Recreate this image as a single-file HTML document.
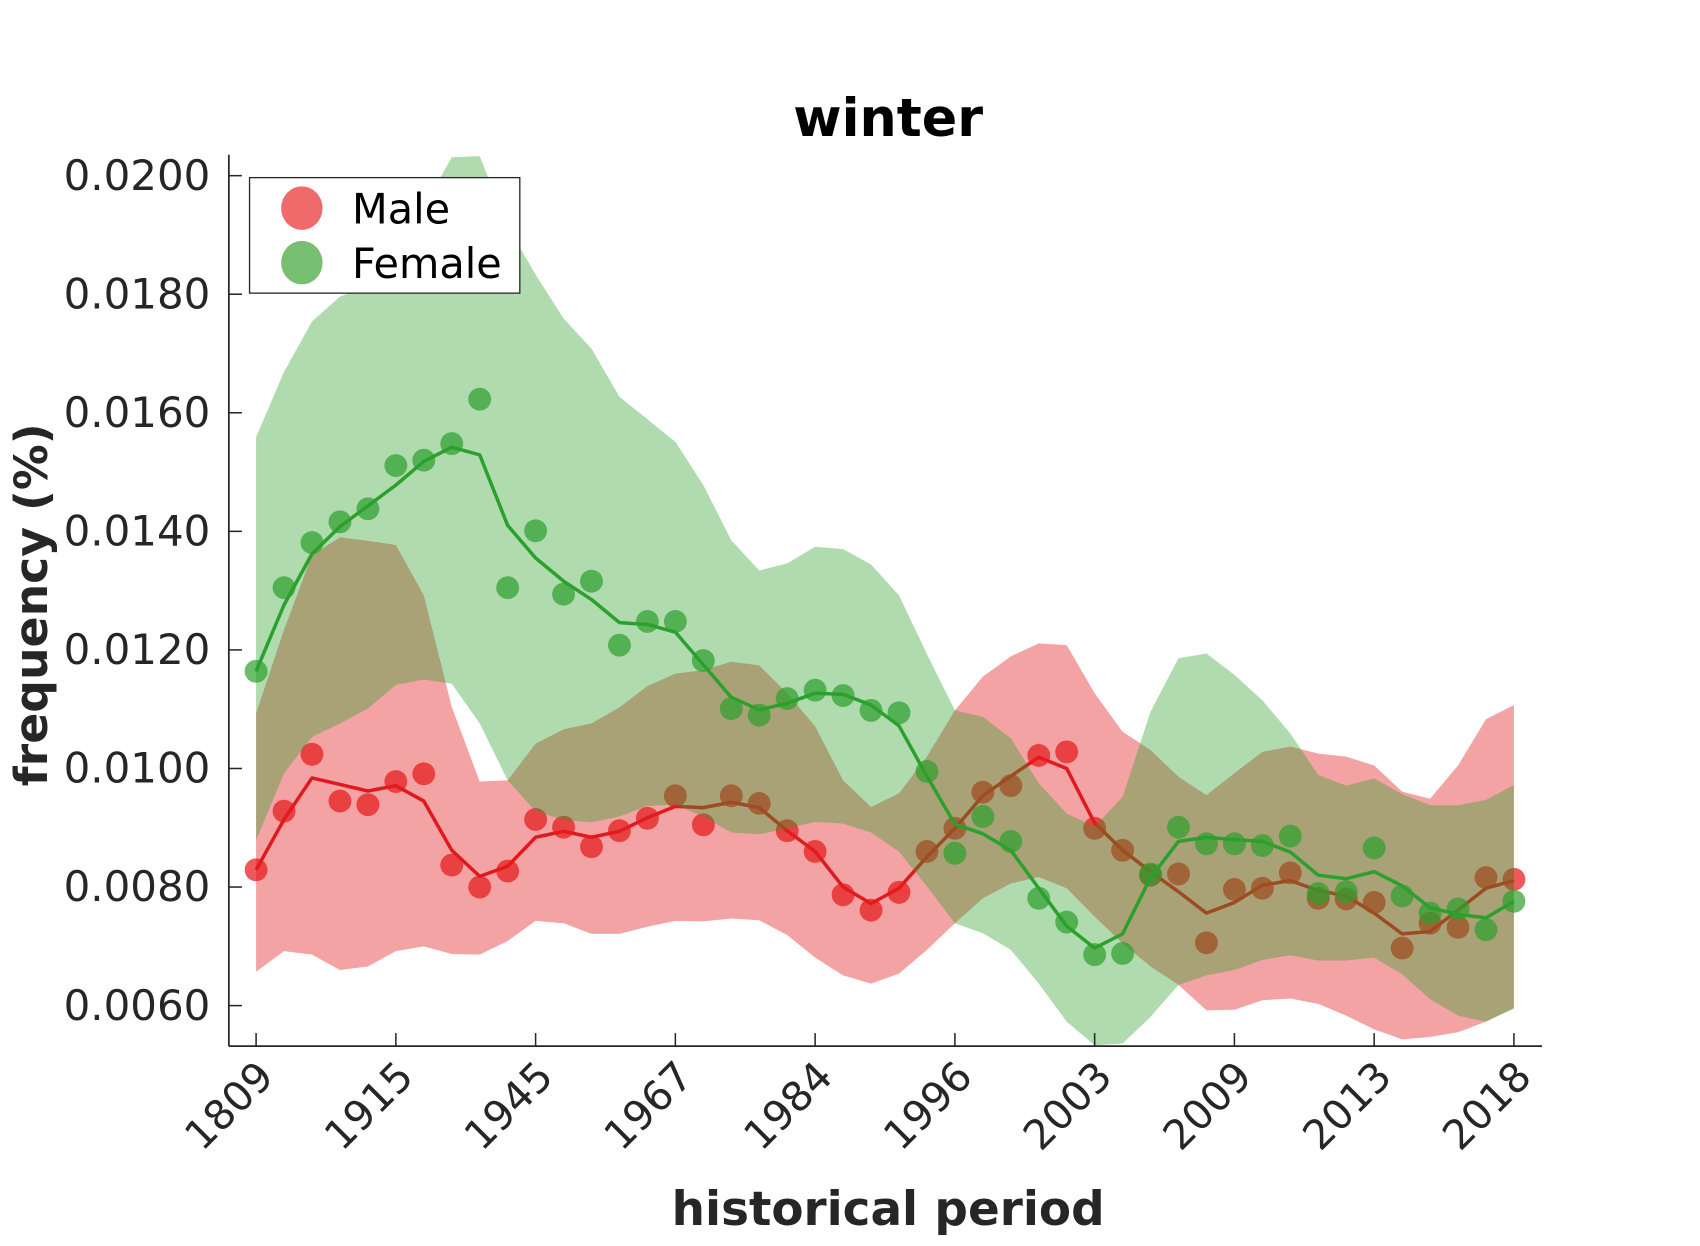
<!DOCTYPE html>
<html><head><meta charset="utf-8"><style>
html,body{margin:0;padding:0;background:#fff;}
svg{display:block;font-family:"DejaVu Sans","Liberation Sans",sans-serif;}
</style></head><body>
<svg id="chart" width="1700" height="1246" viewBox="0 0 1560 1143.4" preserveAspectRatio="none" xmlns="http://www.w3.org/2000/svg">
<defs><clipPath id="plotclip"><rect x="210" y="142" width="1205" height="818"/></clipPath></defs>
<rect width="1560" height="1143.4" fill="#fff"/>
<g id="bands" clip-path="url(#plotclip)"></g>
<text x="815" y="125" text-anchor="middle" font-size="48" font-weight="bold" fill="#000">winter</text>
<text x="815" y="1124" text-anchor="middle" font-size="43" font-weight="bold" fill="#262626">historical period</text>
<text transform="translate(43,555) rotate(-90)" text-anchor="middle" font-size="42" font-weight="bold" fill="#262626">frequency (%)</text>
<g id="axes"></g>
<g>
<rect x="229" y="163" width="248" height="106" fill="#fff" stroke="#262626" stroke-width="1.2"/>
<g>
<ellipse cx="277" cy="191" rx="19" ry="20" fill="#ee6a6b"/>
<text x="323" y="205" font-size="38" fill="#000">Male</text>
</g>
<g>
<ellipse cx="277" cy="241" rx="19" ry="20" fill="#78bf71"/>
<text x="323" y="255" font-size="38" fill="#000">Female</text>
</g>
</g>
</svg>
<script>
const periods = ["1809","1915","1945","1967","1984","1996","2003","2009","2013","2018"];
const yTicks = [0.0060,0.0080,0.0100,0.0120,0.0140,0.0160,0.0180,0.0200];
const yTickLabels = ["0.0060","0.0080","0.0100","0.0120","0.0140","0.0160","0.0180","0.0200"];
const maleDots = [0.00829,0.00928,0.01024,0.00945,0.00939,0.00978,0.00991,0.00837,0.00800,0.00827,0.00914,0.00901,0.00868,0.00895,0.00916,0.00954,0.00905,0.00954,0.00941,0.00895,0.00860,0.00787,0.00761,0.00791,0.00860,0.00899,0.00960,0.00971,0.01022,0.01028,0.00899,0.00862,0.00820,0.00822,0.00706,0.00796,0.00798,0.00824,0.00781,0.00780,0.00774,0.00697,0.00739,0.00732,0.00816,0.00813];
const femaleDots = [0.01164,0.01305,0.01381,0.01416,0.01438,0.01511,0.01520,0.01548,0.01623,0.01305,0.01401,0.01294,0.01316,0.01208,0.01248,0.01248,0.01182,0.01101,0.01090,0.01118,0.01132,0.01123,0.01098,0.01094,0.00995,0.00857,0.00919,0.00877,0.00781,0.00741,0.00686,0.00688,0.00822,0.00901,0.00873,0.00873,0.00870,0.00886,0.00789,0.00792,0.00866,0.00785,0.00756,0.00763,0.00728,0.00776];
const maleLine = [0.00829,0.00914,0.00984,0.00973,0.00962,0.00971,0.00945,0.00862,0.00818,0.00835,0.00884,0.00894,0.00884,0.00894,0.00917,0.00936,0.00934,0.00943,0.00934,0.00895,0.00860,0.00800,0.00772,0.00798,0.00851,0.00899,0.00954,0.00987,0.01019,0.01000,0.00908,0.00862,0.00826,0.00792,0.00756,0.00774,0.00803,0.00811,0.00794,0.00785,0.00756,0.00721,0.00725,0.00761,0.00798,0.00811];
const femaleLine = [0.01164,0.01276,0.01362,0.01408,0.01443,0.01478,0.01518,0.01542,0.01529,0.01410,0.01355,0.01316,0.01285,0.01246,0.01243,0.01230,0.01175,0.01120,0.01099,0.01110,0.01127,0.01125,0.01107,0.01072,0.00987,0.00906,0.00890,0.00862,0.00798,0.00734,0.00697,0.00721,0.00816,0.00877,0.00884,0.00880,0.00877,0.00859,0.00820,0.00814,0.00826,0.00802,0.00765,0.00754,0.00748,0.00776];
const maleUpper = [0.01093,0.01234,0.01360,0.01390,0.01384,0.01377,0.01292,0.01104,0.00978,0.00980,0.01042,0.01066,0.01076,0.01103,0.01139,0.01160,0.01166,0.01180,0.01174,0.01127,0.01071,0.00980,0.00935,0.00958,0.01020,0.01098,0.01155,0.01189,0.01211,0.01208,0.01127,0.01062,0.01031,0.00986,0.00955,0.00992,0.01028,0.01037,0.01025,0.01020,0.01005,0.00961,0.00949,0.01005,0.01083,0.01107];
const maleLower = [0.00657,0.00692,0.00686,0.00660,0.00666,0.00692,0.00700,0.00687,0.00686,0.00709,0.00743,0.00739,0.00721,0.00721,0.00733,0.00743,0.00742,0.00747,0.00744,0.00719,0.00681,0.00651,0.00637,0.00654,0.00694,0.00739,0.00781,0.00806,0.00817,0.00798,0.00750,0.00705,0.00666,0.00635,0.00592,0.00593,0.00609,0.00612,0.00603,0.00583,0.00560,0.00543,0.00547,0.00555,0.00573,0.00596];
const femaleUpper = [0.01559,0.01669,0.01754,0.01796,0.01814,0.01864,0.01947,0.02031,0.02033,0.01914,0.01833,0.01759,0.01708,0.01627,0.01589,0.01551,0.01478,0.01385,0.01334,0.01346,0.01374,0.01370,0.01344,0.01292,0.01193,0.01098,0.01087,0.01051,0.00975,0.00924,0.00902,0.00952,0.01096,0.01186,0.01194,0.01158,0.01115,0.01059,0.00989,0.00971,0.00983,0.00957,0.00938,0.00938,0.00947,0.00972];
const femaleLower = [0.00879,0.00992,0.01053,0.01076,0.01101,0.01141,0.01150,0.01143,0.01076,0.00980,0.00928,0.00913,0.00909,0.00919,0.00937,0.00939,0.00919,0.00892,0.00889,0.00899,0.00910,0.00907,0.00892,0.00860,0.00801,0.00739,0.00722,0.00694,0.00637,0.00573,0.00533,0.00536,0.00581,0.00635,0.00651,0.00660,0.00677,0.00685,0.00676,0.00676,0.00681,0.00653,0.00611,0.00583,0.00573,0.00595];

const NS = "http://www.w3.org/2000/svg";
const X0 = 235, DX = 25.65, Y0 = 161.2, PXPER = 108.8;
function xPos(i){ return X0 + i*DX; }
function yPos(v){ return Y0 + (0.0200 - v)/0.002*PXPER; }
function mk(tag, attrs, parent){ const e = document.createElementNS(NS, tag); for (const k in attrs) e.setAttribute(k, attrs[k]); parent.appendChild(e); return e; }
function linePts(arr){ return arr.map((v,i)=>xPos(i).toFixed(2)+","+yPos(v).toFixed(2)).join(" "); }
function bandPts(up, lo){ const a = up.map((v,i)=>xPos(i).toFixed(2)+","+yPos(v).toFixed(2)); const b = lo.map((v,i)=>xPos(i).toFixed(2)+","+yPos(v).toFixed(2)).reverse(); return a.concat(b).join(" "); }

const bands = document.getElementById("bands");
const mb = mk("polygon", {points: bandPts(maleUpper, maleLower), fill: "rgb(228,26,28)", "fill-opacity": "0.4"}, bands);


const ml = mk("polyline", {points: linePts(maleLine), fill: "none", stroke: "#e0191e", "stroke-width": "3.2", "stroke-linejoin": "round"}, bands);


maleDots.forEach((v,i)=>{
  const c = mk("circle", {cx: xPos(i), cy: yPos(v), r: 10.5, fill: "rgb(228,26,28)", "fill-opacity": "0.72"}, bands);
  
  
});
const fb = mk("polygon", {points: bandPts(femaleUpper, femaleLower), fill: "rgb(44,160,44)", "fill-opacity": "0.38"}, bands);


const fl = mk("polyline", {points: linePts(femaleLine), fill: "none", stroke: "#2ca02c", "stroke-width": "3.2", "stroke-linejoin": "round"}, bands);


femaleDots.forEach((v,i)=>{
  const c = mk("circle", {cx: xPos(i), cy: yPos(v), r: 10.5, fill: "rgb(44,160,44)", "fill-opacity": "0.7"}, bands);
  
  
});

const axes = document.getElementById("axes");
const yAx = mk("line", {x1: 210, y1: 142, x2: 210, y2: 960, stroke: "#262626", "stroke-width": "1.6"}, axes);


const xAx = mk("line", {x1: 210, y1: 960, x2: 1415, y2: 960, stroke: "#262626", "stroke-width": "1.6"}, axes);


yTicks.forEach((v,k)=>{
  const y = yPos(v);
  const t = mk("line", {x1: 210, y1: y, x2: 222, y2: y, stroke: "#262626", "stroke-width": "1.4"}, axes);
  
  
  const lb = mk("text", {x: 193, y: y + 13, "text-anchor": "end", "font-size": "38.5", fill: "#262626"}, axes);
  lb.textContent = yTickLabels[k];
  
  
});
periods.forEach((p,k)=>{
  const x = xPos(k*5);
  const t = mk("line", {x1: x, y1: 960, x2: x, y2: 948, stroke: "#262626", "stroke-width": "1.4"}, axes);
  
  
  const lb = mk("text", {transform: "translate(" + (x + 18) + ",990) rotate(-45)", "text-anchor": "end", "font-size": "37.5", fill: "#262626"}, axes);
  lb.textContent = p;
  
  
});
</script>
</body></html>
